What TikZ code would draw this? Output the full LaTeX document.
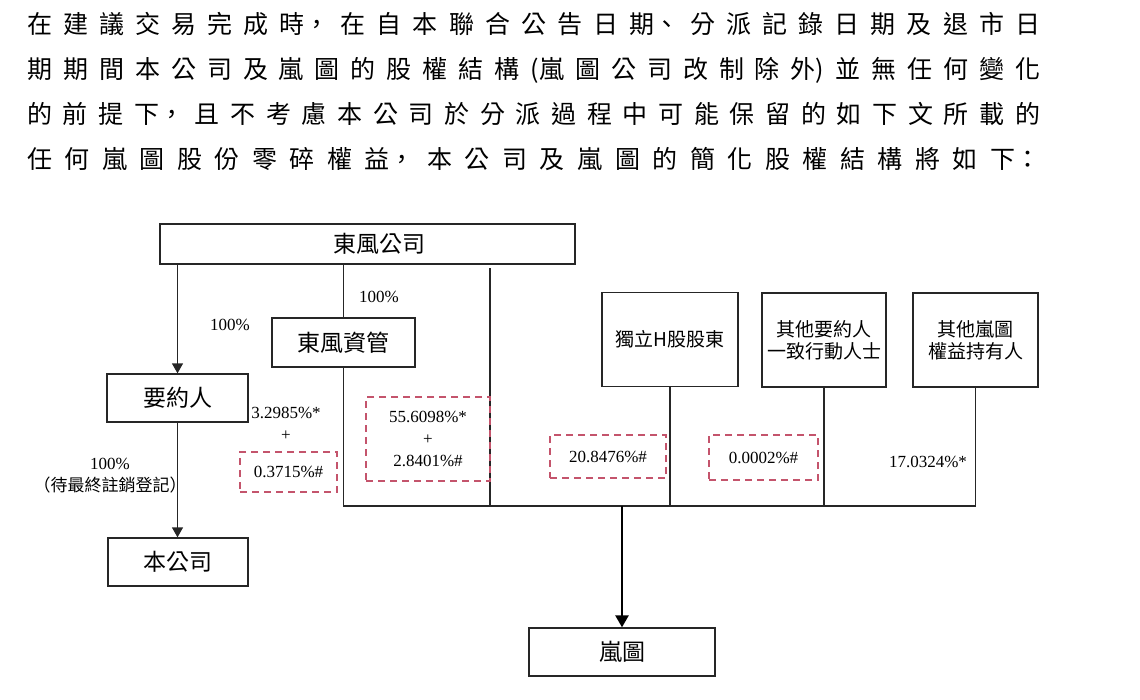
\documentclass[tikz,border=0pt]{standalone}
\usepackage{fontspec}
\setmainfont{Liberation Serif}
\newfontfamily\cjk{Noto Sans CJK TC}
\usetikzlibrary{arrows.meta}
\definecolor{dashred}{RGB}{196,84,108}

\begin{document}
\begin{tikzpicture}[x=1pt, y=-1pt, >={Triangle[width=11pt,length=10pt]},
	box/.style = {draw=black!85, line width=1.3pt, inner sep=0pt, font=\cjk\fontsize{23}{26}\selectfont},
	tall/.style = {draw=black!85, line width=1.3pt, inner sep=0pt, align=center, minimum width=125pt, minimum height=94pt, font=\cjk\fontsize{19}{22}\selectfont},
	share/.style = {draw=dashred, line width=1.6pt, dash pattern=on 7pt off 5pt, inner sep=0pt, align=center, font=\fontsize{17}{22}\selectfont},
	pct/.style = {inner sep=0pt, align=center, font=\fontsize{17}{22}\selectfont},
	link/.style = {draw=black!85, line width=1.3pt}]
		\useasboundingbox (0,0) rectangle (1140,699);
		\node[anchor=north west, inner sep=0pt, text width=1013pt, align=justify, font=\cjk\fontsize{25}{45}\selectfont] (intro) at (27,12) {\noindent\XeTeXlinebreaklocale "zh"\XeTeXlinebreakskip=0pt plus 1fil \parfillskip=0pt
		在建議交易完成時，在自本聯合公告日期、分派記錄日期及退市日\linebreak
		期期間本公司及嵐圖的股權結構(嵐圖公司改制除外)並無任何變化\linebreak
		的前提下，且不考慮本公司於分派過程中可能保留的如下文所載的\linebreak
		任何嵐圖股份零碎權益，本公司及嵐圖的簡化股權結構將如下：\par};

		\node[box, minimum width=415pt, minimum height=40pt] (dfgs) at (367.5,244) {\hspace*{24pt}東風公司};
		\node[box, minimum width=141pt, minimum height=48pt] (yyr) at (177.5,398) {要約人};
		\node[box, minimum width=143pt, minimum height=49pt] (dfzg) at (343.5,342.5) {東風資管};
		\node[box, minimum width=140pt, minimum height=48pt] (bgs) at (178,562) {本公司};
		\node[box, minimum width=186pt, minimum height=48pt] (lt) at (622,652) {嵐圖};
		\node[tall, minimum width=136pt] (hgd) at (670,339.5) {獨立H股股東};
		\node[tall, minimum width=124pt] (qyy) at (824,340) {其他要約人\\一致行動人士};
		\node[tall] (qlt) at (975.5,340) {其他嵐圖\\權益持有人};

		\coordinate (split) at (490,268);
		\coordinate (base) at (343.5,506);
		\draw[link,->] (yyr.north |- dfgs.south) -- (yyr.north);
		\draw[link] (dfzg.north |- dfgs.south) -- (dfzg.north);
		\draw[link] (dfzg.south) -- (base) -- (base -| qlt.south) -- (qlt.south);
		\draw[link] (split) -- (split |- base);
		\draw[link] (hgd.south) -- (hgd.south |- base);
		\draw[link] (qyy.south) -- (qyy.south |- base);
		\draw[link,->] (yyr.south) -- (yyr.south |- bgs.north);
		\draw[link, draw=black, line width=2.5pt, -{Triangle[width=13pt,length=12pt]}] (lt.north |- base) -- (lt.north);

		\node[share, minimum width=124pt, minimum height=84pt] (s1) at (428,439) {55.6098\%*\\+\\2.8401\%\#};
		\node[share, minimum width=97pt, minimum height=40pt] (s2) at (288.5,472) {0.3715\%\#};
		\node[share, minimum width=116pt, minimum height=43pt] (s3) at (608,456.5) {20.8476\%\#};
		\node[share, minimum width=109pt, minimum height=45pt] (s4) at (763.5,457.5) {0.0002\%\#};

		\node[pct] (p1) at (230,325) {100\%};
		\node[pct] (p2) at (379,297) {100\%};
		\node[pct] (p3) at (286,424) {3.2985\%*\\+};
		\node[pct] (p4) at (928,462) {17.0324\%*};
		\node[pct] (p5) at (110,476) {100\%\\{\cjk\fontsize{17}{22}\selectfont （待最終註銷登記）}};

	\end{tikzpicture}
\end{document}
